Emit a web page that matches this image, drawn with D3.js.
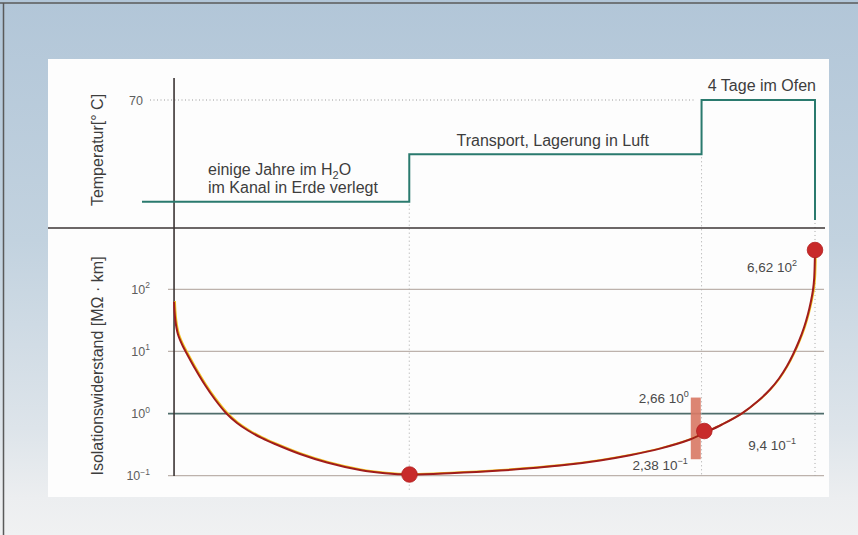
<!DOCTYPE html>
<html><head><meta charset="utf-8">
<script src="https://cdn.jsdelivr.net/npm/d3@7"></script>
<style>
html,body{margin:0;padding:0;background:#fff;}
svg{display:block;}
text{font-family:"Liberation Sans",Arial,Helvetica,sans-serif;}
</style>
</head><body>
<svg id="c" width="858" height="535"></svg>
<script>
// ---------- DATA ----------
// Temperature phases (time in arbitrary units, temperature in °C)
const phaseStart = [-5, 36.7, 82.3, 100];
const phaseTemp  = [14.4, 40.3, 70, 4.4];
const tempTicks  = [70];
// Insulation resistance curve (time units, MΩ·km, log scale)
const curveTime = [0, 0.071, 0.195, 0.383, 0.617, 0.929, 1.397, 2.021, 3.269, 4.829, 6.389, 8.106,
                   9.822, 11.538, 13.722, 15.75, 19.651, 23.863, 29.012, 32.912, 36.735,
                   43.054, 50.855, 60.216, 66.457, 71.138, 75.819, 80.5, 82.731, 85.49, 88.611,
                   91.107, 92.979, 94.383, 95.632, 96.568, 97.504, 98.284, 98.908, 99.376, 99.688,
                   99.875, 100];
const curveRes  = [63.2, 44.8, 32.1, 23.8, 18.7, 15.3, 12.0, 9.09, 5.31, 2.88, 1.685, 1.021,
                   0.705, 0.534, 0.4015, 0.3237, 0.2235, 0.1631, 0.1235, 0.1097, 0.1045,
                   0.1093, 0.1208, 0.1454, 0.1763, 0.2138, 0.273, 0.3825, 0.4866, 0.6669, 1.01,
                   1.594, 2.44, 3.667, 5.83, 8.93, 14.72, 24.28, 40.06, 64.8, 97.5,
                   152.1, 429];
const resTicks  = [0.1, 1, 10, 100];
// Measured points
const markerTime = [36.735, 82.731, 100];
const markerRes  = [0.1045, 0.524, 429];
// Scatter range bar
const rangeTime = [81.4];
const rangeLow  = [0.184];
const rangeHigh = [1.81];
// Annotation texts (mantissa, exponent)
const annMant = ["6,62", "9,4", "2,66", "2,38"];
const annExp  = ["2", "\u22121", "0", "\u22121"];
// Labels
const phaseLabel1 = ["einige Jahre im H", "2", "O"];
const phaseLabel1b = "im Kanal in Erde verlegt";
const phaseLabel2 = "Transport, Lagerung in Luft";
const phaseLabel3 = "4 Tage im Ofen";
const yLabelTop = "Temperatur[° C]";
const yLabelBottom = "Isolationswiderstand [MΩ · km]";

// ---------- CHART ----------
const W = 858, H = 535;
const svg = d3.select("#c");
const defs = svg.append("defs");
const bg = defs.append("linearGradient").attr("id","bg").attr("x1",0).attr("y1",0).attr("x2",0).attr("y2",1);
[[0,"#b2c6d8"],[0.45,"#c2d2df"],[0.8,"#dde4ea"],[0.93,"#eceef0"],[1,"#f0f1f2"]].forEach(s=>
  bg.append("stop").attr("offset",s[0]).attr("stop-color",s[1]));

svg.append("rect").attr("width",W).attr("height",H).attr("fill","url(#bg)");
svg.append("line").attr("x1",0).attr("x2",W).attr("y1",3).attr("y2",3).attr("stroke","#5a5a5a").attr("stroke-width",1.5);
svg.append("line").attr("x1",3.5).attr("x2",3.5).attr("y1",3).attr("y2",H).attr("stroke","#5a5a5a").attr("stroke-width",1.5);
svg.append("rect").attr("x",48).attr("y",59).attr("width",781).attr("height",438).attr("fill","#fdfdfd");

const x  = d3.scaleLinear().domain([-5,100]).range([142,815]);
const yT = d3.scaleLinear().domain([0,70]).range([228,100]);
const yR = d3.scaleLog().domain([0.1,100]).range([475.7,289.3]);

const textCol = "#3d3d3d", tickCol = "#5e5e5e";

// Resistance gridlines
svg.append("g").selectAll("line").data(resTicks).join("line")
  .attr("x1",168).attr("x2",824)
  .attr("y1",d=>yR(d)).attr("y2",d=>yR(d))
  .attr("stroke",d=>d===1?"#4f6d6b":"#bdb2ac")
  .attr("stroke-width",d=>d===1?1.7:1.3);

// Resistance tick labels
const tl = svg.append("g").selectAll("text").data(resTicks).join("text")
  .attr("x",150).attr("y",d=>yR(d)+4.5)
  .attr("text-anchor","end").attr("fill",tickCol).attr("font-size",12.5);
tl.append("tspan").text("10");
tl.append("tspan").attr("font-size",8.5).attr("dy",-5.5)
  .text(d=>{const e=Math.round(Math.log10(d)); return e<0?"\u2212"+(-e):String(e);});

// Temperature dotted reference line + tick
svg.append("g").selectAll("line").data(tempTicks).join("line")
  .attr("x1",150).attr("x2",x(phaseStart[2])-6)
  .attr("y1",d=>yT(d)).attr("y2",d=>yT(d))
  .attr("stroke","#9a9a9a").attr("stroke-width",1).attr("stroke-dasharray","1,2.5");
svg.append("g").selectAll("text").data(tempTicks).join("text")
  .attr("x",143).attr("y",d=>yT(d)+4.5).attr("text-anchor","end")
  .attr("fill",tickCol).attr("font-size",12.5).text(d=>d);

// Dotted phase separators
const sepData = [
  {t:phaseStart[1], y1:yT(phaseTemp[0])+3, y2:492},
  {t:phaseStart[2], y1:yT(phaseTemp[1])+3, y2:477},
  {t:phaseStart[3], y1:yT(phaseTemp[3])+3, y2:477}
];
svg.append("g").selectAll("line").data(sepData).join("line")
  .attr("x1",d=>x(d.t)).attr("x2",d=>x(d.t)).attr("y1",d=>d.y1).attr("y2",d=>d.y2)
  .attr("stroke","#a8a8a8").attr("stroke-width",1).attr("stroke-dasharray","1,3");

// Divider & y-axis line
svg.append("line").attr("x1",48).attr("x2",825).attr("y1",228).attr("y2",228)
  .attr("stroke","#3b3434").attr("stroke-width",1.6);
svg.append("line").attr("x1",x(0)).attr("x2",x(0)).attr("y1",78).attr("y2",476)
  .attr("stroke","#3b3434").attr("stroke-width",1.6);

// Temperature step line
const tempPts = phaseStart.map((t,i)=>[t,phaseTemp[i]]);
svg.append("path").datum(tempPts)
  .attr("d",d3.line().x(d=>x(d[0])).y(d=>yT(d[1])).curve(d3.curveStepAfter))
  .attr("fill","none").attr("stroke","#2a7a6e").attr("stroke-width",2);

// Range bar
svg.append("g").selectAll("rect").data(rangeTime).join("rect")
  .attr("x",(d)=>x(d)-5).attr("width",10)
  .attr("y",(d,i)=>yR(rangeHigh[i])).attr("height",(d,i)=>yR(rangeLow[i])-yR(rangeHigh[i]))
  .attr("fill","#d97b67").attr("opacity",0.92);

// Resistance curve
const curvePts = curveTime.map((t,i)=>[t,curveRes[i]]);
const line = d3.line().x(d=>x(d[0])).y(d=>yR(d[1])).curve(d3.curveCatmullRom.alpha(0.5));
svg.append("path").datum(curvePts).attr("d",line)
  .attr("transform","translate(1,-0.6)")
  .attr("fill","none").attr("stroke","#f0c020").attr("stroke-width",1.8);
svg.append("path").datum(curvePts).attr("d",line)
  .attr("fill","none").attr("stroke","#a01c1c").attr("stroke-width",2);

// Markers
svg.append("g").selectAll("circle").data(markerTime).join("circle")
  .attr("cx",d=>x(d)).attr("cy",(d,i)=>yR(markerRes[i])).attr("r",7.8)
  .attr("fill","#c82a2a").attr("stroke","#b22020").attr("stroke-width",0.8);

// Annotations
const mx = i=>x(markerTime[i]), my = i=>yR(markerRes[i]);
const annPos = [
  {x:mx(2)-18, y:my(2)+22, a:"end"},
  {x:mx(1)+44, y:my(1)+19, a:"start"},
  {x:x(rangeTime[0])-7, y:yR(rangeHigh[0])+5.5, a:"end"},
  {x:x(rangeTime[0])-8, y:yR(rangeLow[0])+11, a:"end"}
];
const an = svg.append("g").selectAll("text").data(annMant).join("text")
  .attr("x",(d,i)=>annPos[i].x).attr("y",(d,i)=>annPos[i].y)
  .attr("text-anchor",(d,i)=>annPos[i].a).attr("fill","#4a4a4a").attr("font-size",13.5);
an.append("tspan").text(d=>d+" 10");
an.append("tspan").attr("font-size",9).attr("dy",-6).text((d,i)=>annExp[i]);

// Phase labels
const l1 = svg.append("text").attr("x",x(5.3)).attr("y",175).attr("fill",textCol).attr("font-size",16);
l1.append("tspan").text(phaseLabel1[0]);
l1.append("tspan").attr("font-size",11).attr("dy",4).text(phaseLabel1[1]);
l1.append("tspan").attr("dy",-4).text(phaseLabel1[2]);
svg.append("text").attr("x",x(5.3)).attr("y",yT(phaseTemp[0])-8.4).attr("fill",textCol).attr("font-size",16).text(phaseLabel1b);
svg.append("text").attr("x",456.5).attr("y",yT(phaseTemp[1])-8.3).attr("fill",textCol).attr("font-size",16).text(phaseLabel2);
svg.append("text").attr("x",x(phaseStart[3])+1).attr("y",yT(phaseTemp[2])-9.3).attr("text-anchor","end")
  .attr("fill",textCol).attr("font-size",16).text(phaseLabel3);

// Axis titles
svg.append("text").attr("transform","translate(103,150) rotate(-90)").attr("text-anchor","middle")
  .attr("fill",textCol).attr("font-size",16).text(yLabelTop);
svg.append("text").attr("transform","translate(103,366) rotate(-90)").attr("text-anchor","middle")
  .attr("fill",textCol).attr("font-size",16).text(yLabelBottom);
</script>
</body></html>
